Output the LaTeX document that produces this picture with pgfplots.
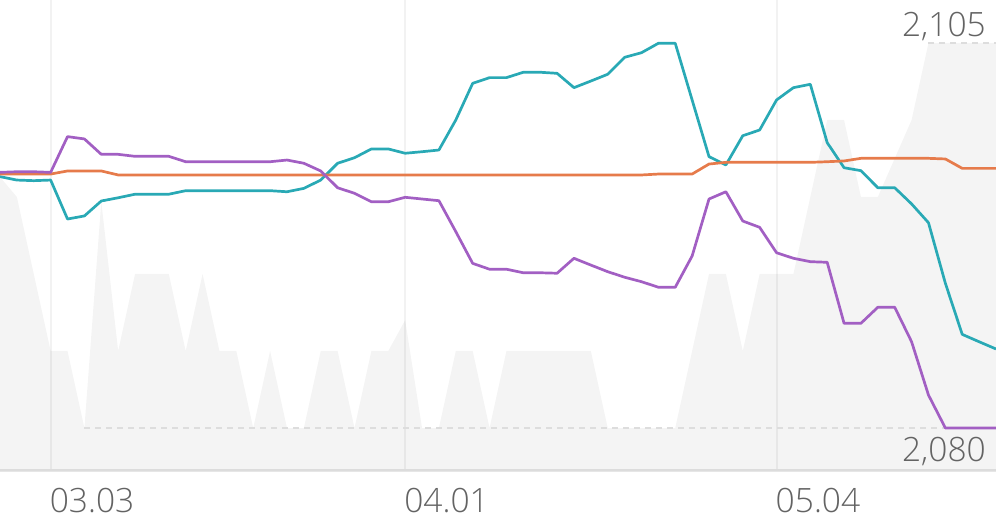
\documentclass[border=0pt]{standalone}
\usepackage{fontspec}
\setmainfont{Open Sans Light}
\usepackage{pgfplots}
\pgfplotsset{compat=1.18}
\usepackage{pgfplotstable}

\definecolor{tealline}{HTML}{29A9B5}
\definecolor{orangeline}{HTML}{E67B4B}
\definecolor{purpleline}{HTML}{A25FC3}
\definecolor{labelgray}{HTML}{636363}
\definecolor{gridgray}{HTML}{F2F2F2}
\definecolor{axisgray}{HTML}{E6E6E6}
\definecolor{dashgray}{HTML}{DDDDDD}

% x = trading day index, area = grey background series, lines in the same units
\pgfplotstableread{
x  area    teal     orange   purple
0  2096.3  2096.32  2096.49  2096.60
1  2095.0  2096.10  2096.49  2096.64
2  2090.0  2096.06  2096.49  2096.64
3  2085.0  2096.10  2096.49  2096.60
4  2085.0  2093.57  2096.69  2098.92
5  2080.0  2093.77  2096.69  2098.77
6  2094.7  2094.74  2096.69  2097.77
7  2085.0  2094.95  2096.43  2097.77
8  2090.0  2095.18  2096.43  2097.64
9  2090.0  2095.18  2096.43  2097.64
10 2090.0  2095.18  2096.43  2097.64
11 2085.0  2095.41  2096.43  2097.29
12 2090.0  2095.41  2096.43  2097.29
13 2085.0  2095.41  2096.43  2097.29
14 2085.0  2095.41  2096.43  2097.29
15 2080.0  2095.41  2096.43  2097.29
16 2085.0  2095.41  2096.43  2097.29
17 2080.0  2095.34  2096.43  2097.40
18 2080.0  2095.56  2096.43  2097.19
19 2085.0  2096.10  2096.43  2096.69
20 2085.0  2097.19  2096.43  2095.60
21 2080.0  2097.55  2096.43  2095.24
22 2085.0  2098.12  2096.43  2094.69
23 2085.0  2098.12  2096.43  2094.69
24 2087.0  2097.84  2096.43  2094.98
25 2080.0  2097.94  2096.43  2094.87
26 2080.0  2098.05  2096.43  2094.76
27 2085.0  2100.00  2096.43  2092.75
28 2085.0  2102.38  2096.43  2090.69
29 2080.0  2102.75  2096.43  2090.31
30 2085.0  2102.75  2096.43  2090.31
31 2085.0  2103.10  2096.43  2090.08
32 2085.0  2103.10  2096.43  2090.08
33 2085.0  2103.03  2096.43  2090.05
34 2085.0  2102.10  2096.43  2091.02
35 2085.0  2102.53  2096.43  2090.58
36 2080.0  2102.97  2096.43  2090.15
37 2080.0  2104.07  2096.43  2089.79
38 2080.0  2104.37  2096.43  2089.50
39 2080.0  2104.98  2096.49  2089.14
40 2080.0  2104.98  2096.49  2089.14
41 2085.0  2101.30  2096.49  2091.17
42 2090.0  2097.62  2097.14  2094.87
43 2090.0  2097.08  2097.25  2095.34
44 2085.0  2098.98  2097.25  2093.44
45 2090.0  2099.35  2097.25  2093.03
46 2090.0  2101.30  2097.25  2091.38
47 2090.0  2102.10  2097.25  2091.02
48 2095.0  2102.32  2097.25  2090.80
49 2100.0  2098.53  2097.29  2090.76
50 2100.0  2096.90  2097.34  2086.80
51 2095.0  2096.71  2097.51  2086.80
52 2095.0  2095.60  2097.51  2087.84
53 2097.5  2095.60  2097.51  2087.84
54 2100.0  2094.55  2097.51  2085.60
55 2105.0  2093.33  2097.51  2082.14
56 2105.0  2089.40  2097.47  2080.00
57 2105.0  2086.08  2096.86  2080.00
58 2105.0  2085.60  2096.86  2080.00
59 2105.0  2085.13  2096.86  2080.00
}\data

\begin{document}
\begin{tikzpicture}
\useasboundingbox (0,-48pt) rectangle (996pt,471pt);
\begin{axis}[
  at={(0,0)}, anchor=south west,
  width=996pt, height=471pt, scale only axis,
  xmin=0, xmax=59, ymin=2077.208, ymax=2107.792,
  axis y line=none, ytick=\empty,
  axis x line*=bottom,
  x axis line style={draw=axisgray, line width=3pt, -},
  xtick={3,24,46}, xticklabels={03.03,04.01,05.04},
  major tick length=0pt, xtick style={draw=none},
  xmajorgrids, grid style={draw=gridgray, line width=2pt},
  xticklabel style={anchor=north west, inner sep=0pt, yshift=-17pt, xshift=-1pt,
    font=\fontsize{33.5}{40}\selectfont, text=labelgray},
  clip mode=individual,
]
\addplot[draw=none, fill=black, fill opacity=0.045] table[x=x, y=area]{\data} \closedcycle;

\addplot[dashgray, line width=2pt, dash pattern=on 6pt off 5pt] coordinates {(5,2080) (59,2080)};
\addplot[dashgray, line width=2pt, dash pattern=on 6pt off 5pt] coordinates {(55,2105) (59,2105)};

\addplot[tealline, line width=2.7pt, line join=round] table[x=x, y=teal]{\data};
\addplot[orangeline, line width=2.7pt, line join=round] table[x=x, y=orange]{\data};
\addplot[purpleline, line width=2.7pt, line join=round] table[x=x, y=purple]{\data};

\node[anchor=base east, inner sep=0pt, xshift=-10pt, yshift=6pt,
  font=\fontsize{33.5}{40}\selectfont, text=labelgray] at (axis cs:59,2105) {2,105};
\node[anchor=north east, inner sep=0pt, xshift=-10pt, yshift=-9pt,
  font=\fontsize{33.5}{40}\selectfont, text=labelgray] at (axis cs:59,2080) {2,080};
\end{axis}
\end{tikzpicture}
\end{document}
